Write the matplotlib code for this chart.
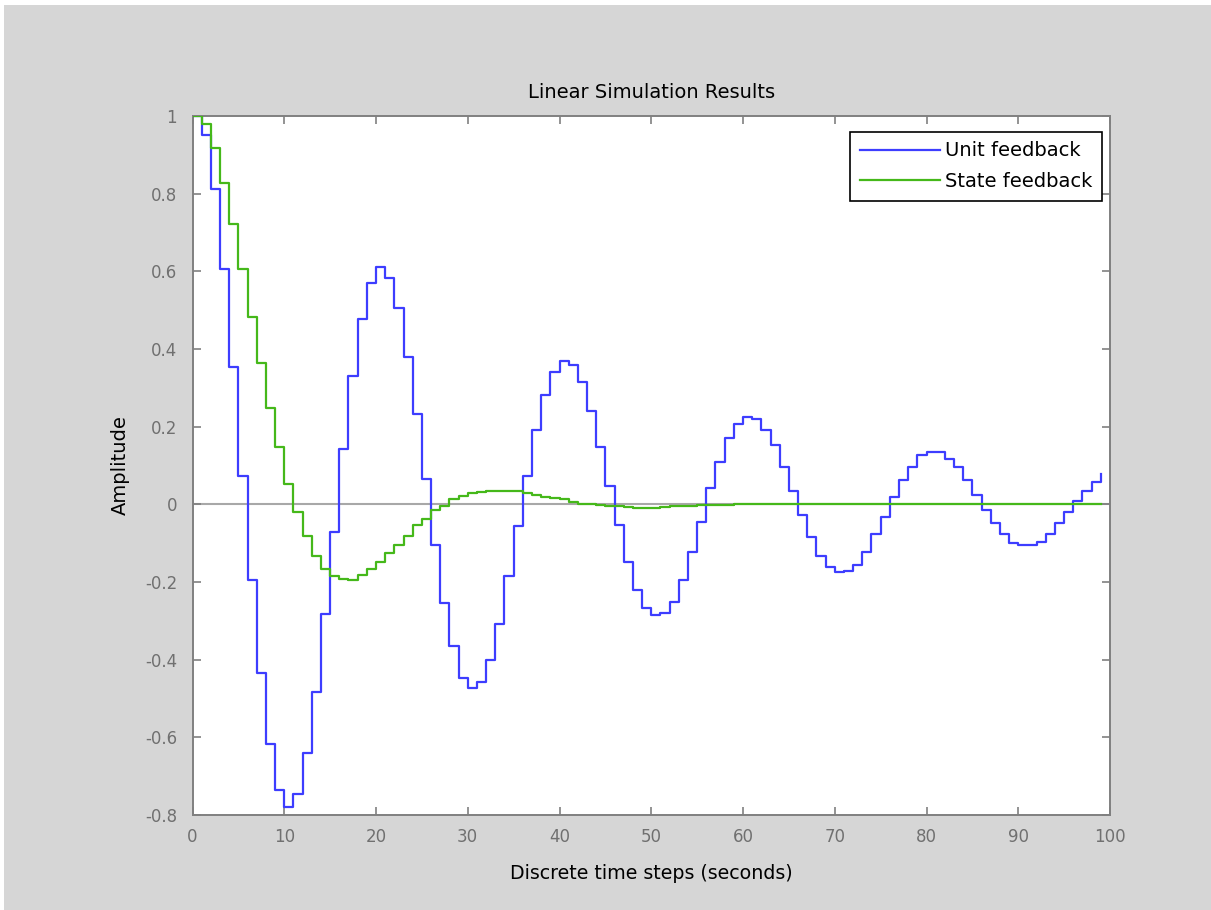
#plot.py
#stairs plot of discrete time responses, unit vs state feedback
import numpy as np
from matplotlib import pyplot as plt
from matplotlib.patches import Rectangle

steps = np.arange(100)

unit_fb = [1.0, 0.951, 0.812, 0.605, 0.354, 0.074, -0.195, -0.434, -0.618, -0.736,
           -0.779, -0.747, -0.640, -0.484, -0.283, -0.0705, 0.142, 0.330, 0.476, 0.571,
           0.610, 0.582, 0.505, 0.380, 0.232, 0.064, -0.105, -0.255, -0.365, -0.446,
           -0.472, -0.457, -0.401, -0.307, -0.184, -0.055, 0.074, 0.191, 0.281, 0.342,
           0.370, 0.359, 0.314, 0.241, 0.147, 0.047, -0.054, -0.148, -0.221, -0.267,
           -0.285, -0.281, -0.251, -0.195, -0.122, -0.045, 0.041, 0.108, 0.170, 0.207,
           0.226, 0.220, 0.191, 0.153, 0.097, 0.035, -0.028, -0.083, -0.132, -0.161,
           -0.175, -0.172, -0.155, -0.122, -0.077, -0.032, 0.018, 0.063, 0.097, 0.127,
           0.135, 0.135, 0.118, 0.097, 0.063, 0.024, -0.015, -0.049, -0.076, -0.099,
           -0.105, -0.105, -0.096, -0.076, -0.049, -0.021, 0.009, 0.035, 0.058, 0.077]

state_fb = [1.0, 0.979, 0.917, 0.828, 0.722, 0.605, 0.482, 0.365, 0.247, 0.147,
            0.0515, -0.021, -0.082, -0.132, -0.167, -0.184, -0.193, -0.194, -0.182, -0.167,
            -0.148, -0.126, -0.104, -0.081, -0.054, -0.037, -0.015, -0.004, 0.013, 0.022,
            0.028, 0.033, 0.035, 0.035, 0.035, 0.034, 0.030, 0.024, 0.019, 0.017,
            0.013, 0.007, 0.002, 0.001, -0.003, -0.004, -0.005, -0.008, -0.009, -0.009,
            -0.009, -0.008, -0.005, -0.004, -0.004, -0.003, -0.003, -0.002, -0.002, 0.0,
            0.0, 0.0, 0.0, 0.0, 0.0, 0.0, 0.0, 0.0, 0.0, 0.0,
            0.0, 0.0, 0.0, 0.0, 0.0, 0.0, 0.0, 0.0, 0.0, 0.0,
            0.0, 0.0, 0.0, 0.0, 0.0, 0.0, 0.0, 0.0, 0.0, 0.0,
            0.0, 0.0, 0.0, 0.0, 0.0, 0.0, 0.0, 0.0, 0.0, 0.0]

labels = ['Unit feedback', 'State feedback']
xticks = [0, 10, 20, 30, 40, 50, 60, 70, 80, 90, 100]
yticks = [-0.8, -0.6, -0.4, -0.2, 0, 0.2, 0.4, 0.6, 0.8, 1]

plt.rcParams['font.family'] = ['DejaVu Sans']

fig = plt.figure(figsize=(12.11, 9.10), dpi=100, facecolor='white')
#gray figure background, thin white strip on top and left like the screenshot
fig.patches.append(Rectangle((4/1211, 0), 1, (910-5)/910, transform=fig.transFigure,
                             facecolor='#d6d6d6', edgecolor='none', zorder=-10))
ax = fig.add_axes([192.5/1211, 95/910, 917.5/1211, 699/910])
ax.set_facecolor('white')

ax.axhline(0, color='#a8a8a8', lw=1.5, zorder=1)
ax.step(steps, unit_fb, where='post', color='#3d3dff', lw=1.6, label=labels[0], zorder=3)
ax.step(steps, state_fb, where='post', color='#45b81a', lw=1.6, label=labels[1], zorder=3)

ax.set_xlim(0, 100)
ax.set_ylim(-0.8, 1)
ax.set_xticks(xticks)
ax.set_yticks(yticks)
ax.set_xticklabels([str(t) for t in xticks])
ax.set_yticklabels(['%g' % t for t in yticks])
ax.tick_params(direction='in', length=6, width=1.2, color='#808080', labelcolor='#707070',
               labelsize=12, top=True, right=True)
ax.tick_params(axis='x', pad=9)
ax.tick_params(axis='y', pad=11)
for sp in ax.spines.values():
    sp.set_color('#808080')
    sp.set_linewidth(1.4)

ax.set_title('Linear Simulation Results', fontsize=14, pad=13)
ax.set_xlabel('Discrete time steps (seconds)', fontsize=13.7, labelpad=13)
ax.set_ylabel('Amplitude', fontsize=14, labelpad=11)

leg = ax.legend(loc='upper right', bbox_to_anchor=(0.991, 0.9775), borderaxespad=0,
                fontsize=14, fancybox=False, framealpha=1, edgecolor='black',
                handlelength=4.1, handletextpad=0.25, borderpad=0.5, labelspacing=0.6)
leg.get_frame().set_linewidth(1.2)

fig.savefig('out.png', dpi=100, facecolor=fig.get_facecolor())
